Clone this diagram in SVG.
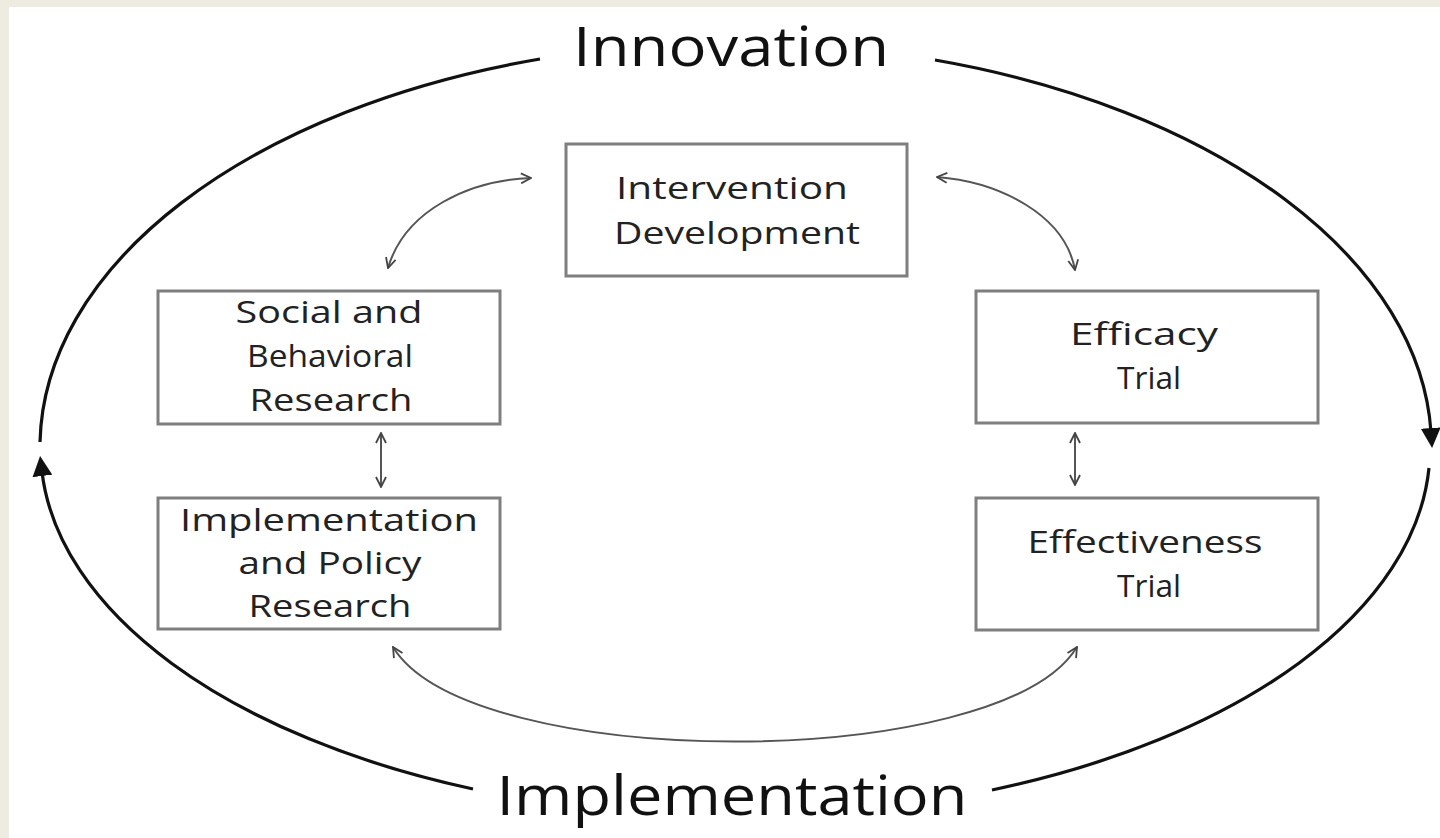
<svg xmlns="http://www.w3.org/2000/svg" width="1440" height="838" viewBox="0 0 1440 838">
<defs>
<style>
.box{fill:#fff;stroke:#7f7f7f;stroke-width:3}
.t{font-family:"Open Sans","DejaVu Sans",sans-serif;font-size:31px;fill:#222}
.big{font-family:"Open Sans","DejaVu Sans",sans-serif;font-size:54px;fill:#111}
.ell{fill:none;stroke:#111;stroke-width:3.2}
.thin{fill:none;stroke:#555;stroke-width:2;marker-start:url(#open);marker-end:url(#open)}
</style>
<marker id="open" viewBox="0 0 12 12" refX="11" refY="6" markerWidth="12" markerHeight="12" markerUnits="userSpaceOnUse" orient="auto-start-reverse">
<path d="M1,1 L11,6 L1,11" fill="none" stroke="#444" stroke-width="1.8"/>
</marker>
<marker id="solid" viewBox="0 0 20 20" refX="4" refY="10" markerWidth="20" markerHeight="20" markerUnits="userSpaceOnUse" orient="auto">
<path d="M0,0 L20,10 L0,20 Z" fill="#111"/>
</marker>
</defs>
<rect x="0" y="0" width="1440" height="838" fill="#eeebe0"/>
<rect x="9" y="7" width="1431" height="831" fill="#fff"/>

<g id="connectors">
<path class="ell" d="M540 59 A696 405 0 0 0 40 442"/>
<path class="ell" d="M473 789 A696 368 0 0 1 42 472" marker-end="url(#solid)"/>
<path class="ell" d="M935 60 A696 405 0 0 1 1431 432" marker-end="url(#solid)"/>
<path class="ell" d="M1429 468 A696 368 0 0 1 992 790"/>
<path class="thin" d="M531 178 C470 180 405 210 388 268"/>
<path class="thin" d="M937 177 C1000 182 1065 215 1075 270"/>
<path class="thin" d="M381 433 L381 487"/>
<path class="thin" d="M1075 433 L1075 485"/>
<path class="thin" d="M393 647 C470 773 1000 773 1077 647"/>
</g>

<g id="label-innovation"><text class="big" x="731" y="66" text-anchor="middle" textLength="316" lengthAdjust="spacingAndGlyphs">Innovation</text></g>
<g id="label-implementation"><text class="big" x="732" y="815" text-anchor="middle" textLength="471" lengthAdjust="spacingAndGlyphs">Implementation</text></g>

<g id="intervention-development">
<rect class="box" x="566" y="144" width="341" height="132"/>
<text class="t" x="732" y="199" text-anchor="middle" textLength="232" lengthAdjust="spacingAndGlyphs">Intervention</text>
<text class="t" x="737" y="244" text-anchor="middle" textLength="246" lengthAdjust="spacingAndGlyphs">Development</text>
</g>
<g id="social-behavioral-research">
<rect class="box" x="158" y="291" width="342" height="133"/>
<text class="t" x="329" y="323" text-anchor="middle" textLength="187" lengthAdjust="spacingAndGlyphs">Social and</text>
<text class="t" x="330" y="367" text-anchor="middle" textLength="166" lengthAdjust="spacingAndGlyphs">Behavioral</text>
<text class="t" x="331" y="411" text-anchor="middle" textLength="163" lengthAdjust="spacingAndGlyphs">Research</text>
</g>
<g id="efficacy-trial">
<rect class="box" x="976" y="291" width="342" height="132"/>
<text class="t" x="1144" y="345" text-anchor="middle" textLength="148" lengthAdjust="spacingAndGlyphs">Efficacy</text>
<text class="t" x="1149" y="389" text-anchor="middle" textLength="64" lengthAdjust="spacingAndGlyphs">Trial</text>
</g>
<g id="implementation-policy-research">
<rect class="box" x="158" y="498" width="342" height="131"/>
<text class="t" x="329" y="531" text-anchor="middle" textLength="298" lengthAdjust="spacingAndGlyphs">Implementation</text>
<text class="t" x="330" y="574" text-anchor="middle" textLength="183" lengthAdjust="spacingAndGlyphs">and Policy</text>
<text class="t" x="330" y="617" text-anchor="middle" textLength="163" lengthAdjust="spacingAndGlyphs">Research</text>
</g>
<g id="effectiveness-trial">
<rect class="box" x="976" y="498" width="342" height="132"/>
<text class="t" x="1145" y="553" text-anchor="middle" textLength="235" lengthAdjust="spacingAndGlyphs">Effectiveness</text>
<text class="t" x="1149" y="597" text-anchor="middle" textLength="64" lengthAdjust="spacingAndGlyphs">Trial</text>
</g>
</svg>
